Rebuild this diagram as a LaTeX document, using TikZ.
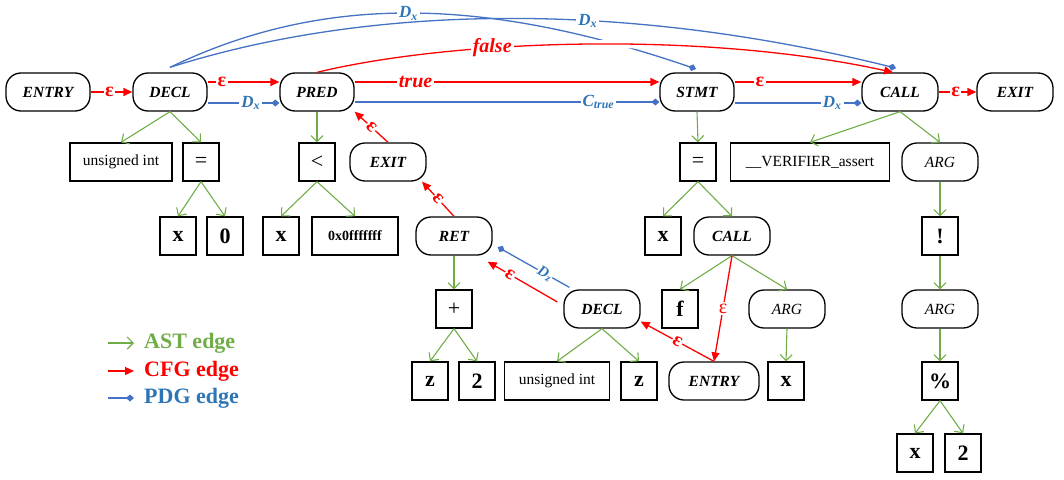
\documentclass[tikz,border=0pt]{standalone}
\usepackage{fontspec}
\setmainfont{Liberation Serif}
\usetikzlibrary{arrows.meta}
\definecolor{astg}{HTML}{70AD47}
\definecolor{cfgr}{HTML}{FF0000}
\definecolor{pdgb}{HTML}{4472C4}
\definecolor{pdgt}{HTML}{2E75B6}
\newcommand\fsz[1]{\fontsize{#1}{#1}\selectfont}
\tikzset{
  cnode/.style={draw, line width=1.3pt, rectangle, rounded corners=15pt, minimum height=38pt, minimum width=#1, inner sep=0pt, font=\fsz{15.5}\bfseries\itshape},
  cnode/.default=74pt,
  anode/.style={cnode=#1, font=\fsz{15.5}\itshape},
  anode/.default=76pt,
  leaf/.style={draw, line width=1.3pt, rectangle, minimum height=38pt, minimum width=36pt, inner sep=0pt, font=\fsz{22}\bfseries},
  opbox/.style={leaf, font=\fsz{22}},
  tbox/.style={leaf, minimum width=#1, font=\fsz{15.5}},
  ast/.style={draw=astg, line width=1.1pt, -{Straight Barb[length=6pt,width=12pt]}},
  cfg/.style={draw=cfgr, line width=1.3pt, -{Triangle[length=9pt,width=8pt]}},
  pdg/.style={draw=pdgb, line width=1.3pt, -{Diamond[length=8pt,width=7pt]}},
  elab/.style={fill=white, inner sep=1.5pt, text=cfgr, font=\fsz{20}\bfseries},
  wlab/.style={fill=white, inner sep=2pt, text=cfgr, font=\fsz{20}\bfseries\itshape},
  dlab/.style={fill=white, inner sep=2pt, text=pdgt, font=\fsz{17}\bfseries\itshape},
  legt/.style={anchor=west, inner sep=0pt, font=\fsz{22}\bfseries},
}
\begin{document}
\begin{tikzpicture}[x=1pt,y=-1pt]
\useasboundingbox (0,0) rectangle (1064,479);
% row 1
\node[cnode=84pt] (entry1) at (48,92) {ENTRY};
\node[cnode] (decl1) at (170,92) {DECL};
\node[cnode] (pred) at (317,92) {PRED};
\node[cnode] (stmt) at (697,92) {STMT};
\node[cnode=76pt] (call1) at (900,92) {CALL};
\node[cnode=76pt] (exit1) at (1015,92) {EXIT};
% row 2
\node[tbox=102pt] (ui1) at (121,162) {unsigned int};
\node[opbox] (eq1) at (201,162) {=};
\node[opbox] (lt) at (317,162) {<};
\node[cnode=76pt] (exit2) at (388,162) {EXIT};
\node[opbox] (eq2) at (698,162) {=};
\node[tbox=159pt] (ver) at (810,162) {\_\_VERIFIER\_assert};
\node[anode] (arg1) at (940,162) {ARG};
% row 3
\node[leaf] (x1) at (178,236) {x};
\node[leaf] (zero) at (225,236) {0};
\node[leaf] (x2) at (281,236) {x};
\node[leaf, minimum width=86pt, font=\fsz{14}\bfseries] (hex) at (355,236) {0x0fffffff};
\node[cnode=76pt] (ret) at (454,236) {RET};
\node[leaf] (x3) at (663,236) {x};
\node[cnode=76pt] (call2) at (732,236) {CALL};
\node[leaf] (bang) at (940,236) {!};
% row 4
\node[opbox] (plus) at (454,309) {+};
\node[cnode=76pt] (decl2) at (602,309) {DECL};
\node[leaf] (f) at (680,309) {f};
\node[anode] (arg2) at (787,309) {ARG};
\node[anode] (arg3) at (940,309) {ARG};
% row 5
\node[leaf] (z1) at (430,381) {z};
\node[leaf] (two1) at (477,381) {2};
\node[tbox=105pt] (ui2) at (557,381) {unsigned int};
\node[leaf] (z2) at (639,381) {z};
\node[cnode=90pt] (entry2) at (714,381) {ENTRY};
\node[leaf] (x4) at (786,381) {x};
\node[leaf] (pct) at (940,381) {\%};
% row 6
\node[leaf] (x5) at (915,453) {x};
\node[leaf] (two2) at (963,453) {2};

% AST edges
\draw[ast] (decl1.south) -- (ui1.north);
\draw[ast] (decl1.south) -- (eq1.north);
\draw[ast] (eq1.south) -- (x1.north);
\draw[ast] (eq1.south) -- (zero.north);
\draw[ast] (pred.south) -- (lt.north);
\draw[ast] (lt.south) -- (x2.north);
\draw[ast] (lt.south) -- (hex.north);
\draw[ast] (ret.south) -- (plus.north);
\draw[ast] (plus.south) -- (z1.north);
\draw[ast] (plus.south) -- (two1.north);
\draw[ast] (decl2.south) -- (ui2.north);
\draw[ast] (decl2.south) -- (z2.north);
\draw[ast] (stmt.south) -- (eq2.north);
\draw[ast] (eq2.south) -- (x3.north);
\draw[ast] (eq2.south) -- (call2.north);
\draw[ast] (call2.south) -- (f.north);
\draw[ast] (call2.south) -- (arg2.north);
\draw[ast] (arg2.south) -- (x4.north);
\draw[ast] (call1.south) -- (ver.north);
\draw[ast] (call1.south) -- (arg1.north);
\draw[ast] (arg1.south) -- (bang.north);
\draw[ast] (bang.south) -- (arg3.north);
\draw[ast] (arg3.south) -- (pct.north);
\draw[ast] (pct.south) -- (x5.north);
\draw[ast] (pct.south) -- (two2.north);

% top row CFG / PDG
\draw[cfg] (entry1.east) -- (decl1.west) node[pos=0.45, elab] {ε};
\draw[cfg] ([yshift=10pt]decl1.east) -- ([yshift=10pt]pred.west) node[pos=0.2, elab] {ε};
\draw[pdg] ([yshift=-11pt]decl1.east) -- ([yshift=-11pt]pred.west) node[pos=0.6, dlab] {D\textsubscript{x}};
\draw[cfg] ([yshift=10pt]pred.east) -- ([yshift=10pt]stmt.west) node[pos=0.2, wlab] {true};
\draw[pdg] ([yshift=-10pt]pred.east) -- ([yshift=-10pt]stmt.west) node[pos=0.8, dlab] {C\textsubscript{true}};
\draw[cfg] ([yshift=10pt]stmt.east) -- ([yshift=10pt]call1.west) node[pos=0.2, elab] {ε};
\draw[pdg] ([yshift=-11pt]stmt.east) -- ([yshift=-11pt]call1.west) node[pos=0.77, dlab] {D\textsubscript{x}};
\draw[cfg] (call1.east) -- (exit1.west) node[pos=0.45, elab] {ε};

% long curves
\draw[pdg, shorten >=1pt] ([yshift=5pt]decl1.north) .. controls (320,-5) and (480,-5) .. ([yshift=3pt]stmt.north) node[pos=0.5, dlab] {D\textsubscript{x}};
\draw[pdg, shorten >=1pt] ([yshift=5pt]decl1.north) .. controls (350,10) and (600,-5) .. ([xshift=-3pt,yshift=4pt]call1.north) node[pos=0.63, dlab] {D\textsubscript{x}};
\begin{scope}
  \clip (598,28) rectangle (642,60);
  \draw[white, line width=8pt] (pred.north) .. controls (450,40) and (700,30) .. ([xshift=-7pt]call1.north);
\end{scope}
\draw[cfg] (pred.north) .. controls (450,40) and (700,30) .. ([xshift=-7pt]call1.north) node[pos=0.35, wlab] {false};

% middle CFG / PDG
\draw[cfg] (exit2.north) -- (pred.south east) node[pos=0.5, elab, sloped, inner sep=1pt] {ε};
\draw[cfg] (ret.north) -- (exit2.-30) node[pos=0.5, elab, sloped, inner sep=1pt] {ε};
\draw[cfg] ([xshift=-6pt,yshift=7pt]decl2.west) -- ([xshift=-5pt,yshift=-6pt]ret.south east) node[pos=0.68, elab, sloped, inner sep=1pt] {ε};
\draw[pdg] ([xshift=6pt,yshift=2pt]decl2.north west) -- ([xshift=5pt,yshift=-11pt]ret.east) node[pos=0.34, dlab, sloped, inner sep=0.5pt, font=\fsz{15}\bfseries\itshape] {D\textsubscript{z}};
\draw[cfg] (call2.south) -- (entry2.north) node[pos=0.5, elab, font=\fsz{20}] {ε};
\draw[cfg] (entry2.north) -- (decl2.-18) node[pos=0.5, elab, sloped, inner sep=1pt] {ε};

% legend
\coordinate (la1) at (108,343); \coordinate (lb1) at (134,343);
\coordinate (la2) at (108,371); \coordinate (lb2) at (134,371);
\coordinate (la3) at (108,398); \coordinate (lb3) at (134,398);
\draw[ast] (la1) -- (lb1);
\draw[cfg] (la2) -- (lb2);
\draw[pdg] (la3) -- (lb3);
\node[legt, text=astg] (lt1) at (144,343) {AST edge};
\node[legt, text=cfgr] (lt2) at (144,371) {CFG edge};
\node[legt, text=pdgt] (lt3) at (144,398) {PDG edge};
\end{tikzpicture}
\end{document}
